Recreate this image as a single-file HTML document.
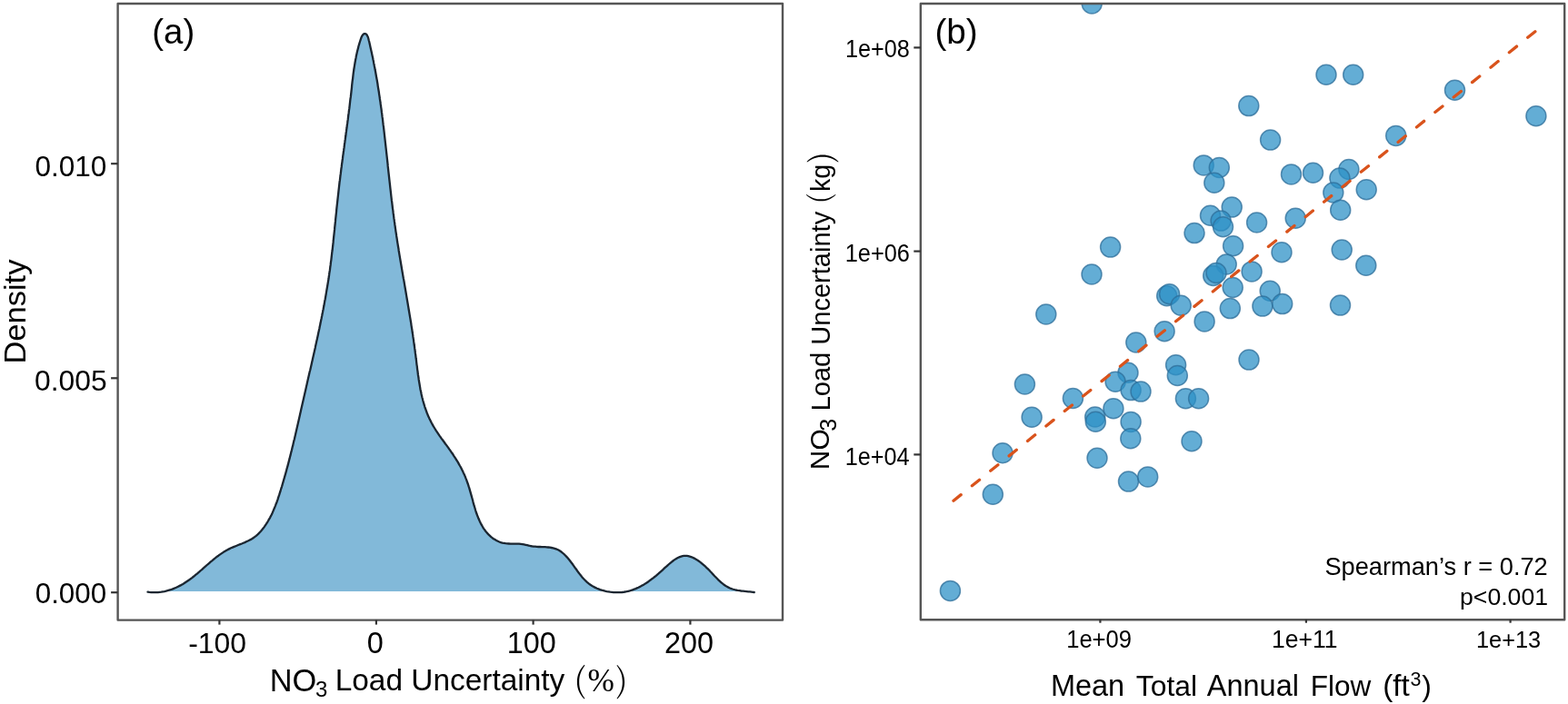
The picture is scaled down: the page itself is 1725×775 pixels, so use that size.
<!DOCTYPE html>
<html><head><meta charset="utf-8"><title>NO3 load uncertainty figure</title>
<style>
html,body{margin:0;padding:0;background:#fff;}
body{width:1725px;height:775px;overflow:hidden;}
svg{display:block;}
text{font-family:'Liberation Sans', Arial, Helvetica, sans-serif;fill:#000;}
.ser{font-family:'Noto Serif CJK JP','Liberation Serif',serif;font-weight:300;}
.ser2{font-family:'Liberation Serif',serif;}
</style></head><body>
<svg width="1725" height="775" viewBox="0 0 1725 775">
<rect x="0" y="0" width="1725" height="775" fill="#fff"/>
<defs><clipPath id="cb"><rect x="1012.8" y="4.0" width="708.4" height="678.2"/></clipPath></defs>

<path d="M162.5,651.6 L164.4,651.9 L166.3,652.1 L168.2,652.2 L170.1,652.2 L171.9,652.2 L173.8,652.1 L175.6,651.9 L177.4,651.7 L179.2,651.4 L180.9,651.1 L182.7,650.7 L184.4,650.2 L186.1,649.7 L187.8,649.2 L189.5,648.6 L191.2,647.9 L192.8,647.2 L194.4,646.5 L196.0,645.7 L197.6,644.9 L199.2,644.1 L200.8,643.2 L202.3,642.3 L203.8,641.3 L205.3,640.3 L206.8,639.3 L208.3,638.3 L209.7,637.2 L211.2,636.1 L212.6,635.0 L214.0,633.9 L215.4,632.7 L216.8,631.6 L218.2,630.4 L219.6,629.2 L220.9,628.0 L222.3,626.8 L223.6,625.6 L225.0,624.4 L226.4,623.2 L227.7,622.0 L229.1,620.8 L230.5,619.6 L231.8,618.4 L233.2,617.3 L234.6,616.1 L236.0,615.0 L237.4,613.8 L238.8,612.7 L240.3,611.7 L241.7,610.6 L243.2,609.6 L244.7,608.6 L246.2,607.6 L247.7,606.7 L249.3,605.8 L250.9,604.9 L252.5,604.1 L254.1,603.3 L255.8,602.6 L257.5,601.9 L259.2,601.2 L260.9,600.5 L262.6,599.8 L264.3,599.1 L266.0,598.5 L267.7,597.8 L269.4,597.1 L271.0,596.3 L272.7,595.5 L274.3,594.7 L275.9,593.9 L277.4,593.0 L278.9,592.0 L280.4,590.9 L281.8,589.8 L283.2,588.6 L284.5,587.4 L285.8,586.0 L287.0,584.7 L288.2,583.3 L289.4,581.8 L290.5,580.4 L291.5,578.9 L292.5,577.4 L293.5,575.8 L294.5,574.3 L295.4,572.7 L296.3,571.2 L297.2,569.6 L298.0,568.0 L298.8,566.4 L299.6,564.7 L300.3,563.1 L301.0,561.4 L301.7,559.8 L302.4,558.1 L303.1,556.4 L303.7,554.7 L304.4,553.0 L305.0,551.3 L305.6,549.6 L306.1,547.9 L306.7,546.2 L307.3,544.4 L307.8,542.7 L308.4,541.0 L308.9,539.3 L309.4,537.5 L310.0,535.8 L310.5,534.1 L311.0,532.3 L311.5,530.6 L312.0,528.8 L312.5,527.1 L313.0,525.4 L313.5,523.6 L314.0,521.9 L314.5,520.1 L315.0,518.4 L315.4,516.6 L315.9,514.9 L316.4,513.1 L316.9,511.4 L317.3,509.6 L317.8,507.9 L318.2,506.1 L318.7,504.4 L319.1,502.6 L319.6,500.9 L320.0,499.1 L320.4,497.4 L320.9,495.6 L321.3,493.9 L321.7,492.1 L322.2,490.4 L322.6,488.6 L323.0,486.8 L323.4,485.1 L323.9,483.3 L324.3,481.6 L324.7,479.8 L325.1,478.1 L325.5,476.3 L325.9,474.5 L326.3,472.8 L326.7,471.0 L327.1,469.2 L327.5,467.5 L327.9,465.7 L328.3,464.0 L328.7,462.2 L329.1,460.4 L329.5,458.7 L329.9,456.9 L330.3,455.1 L330.7,453.4 L331.1,451.6 L331.5,449.8 L331.9,448.1 L332.3,446.3 L332.7,444.5 L333.1,442.8 L333.5,441.0 L333.9,439.2 L334.3,437.5 L334.7,435.7 L335.1,434.0 L335.5,432.2 L335.9,430.4 L336.3,428.7 L336.7,426.9 L337.1,425.1 L337.5,423.4 L337.9,421.6 L338.3,419.8 L338.7,418.1 L339.1,416.3 L339.5,414.5 L339.9,412.8 L340.3,411.0 L340.7,409.2 L341.2,407.5 L341.6,405.7 L342.0,403.9 L342.4,402.2 L342.8,400.4 L343.2,398.6 L343.6,396.9 L344.0,395.1 L344.4,393.3 L344.8,391.6 L345.2,389.8 L345.6,388.0 L346.0,386.3 L346.4,384.5 L346.8,382.7 L347.1,380.9 L347.5,379.2 L347.9,377.4 L348.3,375.6 L348.7,373.9 L349.1,372.1 L349.5,370.3 L349.9,368.6 L350.2,366.8 L350.6,365.0 L351.0,363.2 L351.4,361.5 L351.7,359.7 L352.1,357.9 L352.5,356.1 L352.8,354.4 L353.2,352.6 L353.6,350.8 L353.9,349.1 L354.3,347.3 L354.6,345.5 L355.0,343.7 L355.3,341.9 L355.7,340.2 L356.0,338.4 L356.4,336.6 L356.7,334.8 L357.0,333.1 L357.3,331.3 L357.7,329.5 L358.0,327.7 L358.3,325.9 L358.6,324.2 L358.9,322.4 L359.2,320.6 L359.5,318.8 L359.8,317.0 L360.1,315.2 L360.4,313.5 L360.7,311.7 L361.0,309.9 L361.3,308.1 L361.6,306.3 L361.8,304.5 L362.1,302.7 L362.3,300.9 L362.6,299.2 L362.9,297.4 L363.1,295.6 L363.3,293.8 L363.6,292.0 L363.8,290.2 L364.0,288.4 L364.3,286.6 L364.5,284.8 L364.7,283.0 L364.9,281.2 L365.1,279.4 L365.3,277.6 L365.6,275.8 L365.8,274.0 L366.0,272.2 L366.2,270.4 L366.4,268.6 L366.6,266.9 L366.7,265.1 L366.9,263.3 L367.1,261.5 L367.3,259.7 L367.5,257.9 L367.7,256.0 L367.9,254.2 L368.1,252.4 L368.2,250.6 L368.4,248.8 L368.6,247.0 L368.8,245.2 L369.0,243.4 L369.1,241.6 L369.3,239.8 L369.5,238.0 L369.7,236.2 L369.9,234.4 L370.1,232.6 L370.2,230.8 L370.4,229.0 L370.6,227.2 L370.8,225.4 L371.0,223.6 L371.2,221.8 L371.4,220.0 L371.6,218.2 L371.8,216.4 L372.0,214.6 L372.2,212.8 L372.4,211.0 L372.6,209.2 L372.8,207.4 L373.0,205.6 L373.2,203.8 L373.4,202.0 L373.6,200.2 L373.9,198.4 L374.1,196.6 L374.3,194.8 L374.5,193.0 L374.8,191.2 L375.0,189.4 L375.2,187.6 L375.4,185.8 L375.7,184.0 L375.9,182.2 L376.1,180.4 L376.4,178.6 L376.6,176.8 L376.9,175.0 L377.1,173.2 L377.3,171.4 L377.6,169.6 L377.8,167.8 L378.1,166.0 L378.3,164.2 L378.6,162.4 L378.8,160.6 L379.0,158.8 L379.3,157.0 L379.5,155.2 L379.8,153.4 L380.0,151.6 L380.3,149.8 L380.5,148.0 L380.7,146.2 L381.0,144.4 L381.2,142.6 L381.5,140.8 L381.7,139.0 L381.9,137.3 L382.2,135.5 L382.4,133.7 L382.7,131.9 L382.9,130.1 L383.1,128.3 L383.3,126.5 L383.6,124.7 L383.8,122.9 L384.0,121.1 L384.3,119.4 L384.5,117.6 L384.7,115.8 L384.9,114.0 L385.1,112.2 L385.3,110.4 L385.5,108.7 L385.8,106.9 L386.0,105.1 L386.2,103.3 L386.4,101.5 L386.6,99.7 L386.8,98.0 L387.0,96.2 L387.1,94.4 L387.3,92.6 L387.5,90.8 L387.7,89.1 L388.0,87.3 L388.2,85.5 L388.4,83.7 L388.6,81.9 L388.8,80.1 L389.1,78.3 L389.3,76.5 L389.6,74.7 L389.9,72.9 L390.2,71.1 L390.5,69.3 L390.8,67.5 L391.1,65.7 L391.5,63.9 L391.8,62.1 L392.2,60.2 L392.6,58.4 L393.0,56.6 L393.5,54.7 L394.0,52.9 L394.4,51.0 L395.0,49.2 L395.5,47.3 L396.1,45.5 L396.7,43.6 L397.3,41.8 L398.0,40.1 L398.8,38.8 L399.7,37.8 L400.6,37.2 L401.6,37.1 L402.5,37.4 L403.4,38.2 L404.1,39.4 L404.8,40.8 L405.3,42.5 L405.7,44.2 L406.2,46.0 L406.6,47.8 L407.0,49.6 L407.4,51.4 L407.8,53.2 L408.2,55.0 L408.6,56.8 L409.0,58.6 L409.4,60.4 L409.8,62.2 L410.2,64.0 L410.5,65.8 L410.9,67.6 L411.2,69.4 L411.6,71.2 L411.9,73.0 L412.3,74.8 L412.6,76.6 L413.0,78.4 L413.3,80.2 L413.6,82.0 L413.9,83.8 L414.2,85.6 L414.6,87.4 L414.9,89.2 L415.2,91.0 L415.5,92.8 L415.7,94.6 L416.0,96.4 L416.3,98.2 L416.6,100.0 L416.9,101.8 L417.1,103.6 L417.4,105.4 L417.7,107.2 L417.9,109.0 L418.2,110.9 L418.5,112.7 L418.7,114.5 L419.0,116.3 L419.2,118.1 L419.5,119.9 L419.7,121.7 L419.9,123.5 L420.2,125.3 L420.4,127.1 L420.6,128.9 L420.9,130.7 L421.1,132.5 L421.3,134.3 L421.5,136.1 L421.7,137.9 L422.0,139.7 L422.2,141.5 L422.4,143.3 L422.6,145.1 L422.8,146.9 L423.0,148.7 L423.2,150.5 L423.4,152.3 L423.6,154.1 L423.8,155.9 L424.0,157.7 L424.2,159.5 L424.4,161.3 L424.6,163.1 L424.8,164.9 L425.0,166.7 L425.2,168.5 L425.4,170.3 L425.6,172.1 L425.8,173.9 L426.0,175.7 L426.2,177.5 L426.4,179.3 L426.6,181.1 L426.7,182.9 L426.9,184.7 L427.1,186.5 L427.3,188.3 L427.5,190.1 L427.7,191.9 L427.9,193.7 L428.1,195.5 L428.3,197.3 L428.5,199.1 L428.7,200.9 L428.9,202.7 L429.1,204.5 L429.3,206.3 L429.5,208.1 L429.7,209.9 L429.9,211.7 L430.1,213.5 L430.3,215.3 L430.5,217.1 L430.7,218.9 L430.9,220.7 L431.2,222.5 L431.4,224.3 L431.6,226.0 L431.8,227.8 L432.0,229.6 L432.3,231.4 L432.5,233.2 L432.7,235.0 L433.0,236.8 L433.2,238.6 L433.4,240.4 L433.7,242.1 L433.9,243.9 L434.2,245.7 L434.4,247.5 L434.7,249.3 L434.9,251.1 L435.2,252.9 L435.4,254.6 L435.7,256.4 L436.0,258.2 L436.2,260.0 L436.5,261.8 L436.8,263.6 L437.0,265.3 L437.3,267.1 L437.6,268.9 L437.9,270.7 L438.2,272.5 L438.5,274.2 L438.7,276.0 L439.0,277.8 L439.3,279.6 L439.6,281.4 L439.9,283.1 L440.2,284.9 L440.5,286.7 L440.8,288.5 L441.1,290.3 L441.4,292.0 L441.7,293.8 L442.0,295.6 L442.3,297.4 L442.6,299.2 L442.9,300.9 L443.2,302.7 L443.5,304.5 L443.8,306.3 L444.2,308.1 L444.5,309.8 L444.8,311.6 L445.1,313.4 L445.4,315.2 L445.7,317.0 L446.0,318.7 L446.3,320.5 L446.6,322.3 L446.9,324.1 L447.2,325.9 L447.5,327.7 L447.8,329.5 L448.1,331.2 L448.4,333.0 L448.7,334.8 L449.0,336.6 L449.3,338.4 L449.6,340.2 L449.9,342.0 L450.2,343.8 L450.5,345.6 L450.8,347.4 L451.1,349.1 L451.4,350.9 L451.7,352.7 L452.0,354.5 L452.3,356.3 L452.5,358.1 L452.8,359.9 L453.1,361.7 L453.4,363.5 L453.6,365.3 L453.9,367.1 L454.2,368.9 L454.4,370.7 L454.7,372.6 L455.0,374.4 L455.2,376.2 L455.5,378.0 L455.7,379.8 L456.0,381.6 L456.2,383.4 L456.5,385.2 L456.7,387.0 L456.9,388.9 L457.2,390.7 L457.4,392.5 L457.6,394.3 L457.9,396.1 L458.1,398.0 L458.3,399.8 L458.5,401.6 L458.8,403.4 L459.0,405.3 L459.2,407.1 L459.5,408.9 L459.7,410.7 L459.9,412.5 L460.2,414.3 L460.5,416.1 L460.7,417.9 L461.0,419.7 L461.3,421.5 L461.6,423.3 L461.9,425.1 L462.2,426.9 L462.5,428.7 L462.9,430.5 L463.3,432.2 L463.6,434.0 L464.0,435.7 L464.4,437.5 L464.9,439.2 L465.3,441.0 L465.8,442.7 L466.3,444.4 L466.8,446.1 L467.3,447.8 L467.9,449.5 L468.5,451.2 L469.1,452.8 L469.7,454.5 L470.4,456.2 L471.0,457.8 L471.8,459.4 L472.5,461.0 L473.3,462.6 L474.1,464.2 L474.9,465.8 L475.8,467.4 L476.6,468.9 L477.6,470.5 L478.5,472.0 L479.5,473.6 L480.5,475.1 L481.5,476.6 L482.5,478.1 L483.5,479.6 L484.6,481.1 L485.6,482.6 L486.7,484.0 L487.8,485.5 L488.9,487.0 L489.9,488.5 L491.0,489.9 L492.1,491.4 L493.2,492.9 L494.2,494.4 L495.3,495.9 L496.3,497.3 L497.3,498.8 L498.4,500.3 L499.3,501.8 L500.3,503.3 L501.3,504.8 L502.2,506.3 L503.2,507.9 L504.1,509.4 L504.9,510.9 L505.8,512.5 L506.7,514.0 L507.5,515.6 L508.3,517.2 L509.1,518.8 L509.8,520.4 L510.6,522.0 L511.3,523.6 L512.0,525.3 L512.6,526.9 L513.3,528.6 L513.9,530.3 L514.5,532.0 L515.1,533.7 L515.6,535.4 L516.2,537.1 L516.7,538.9 L517.2,540.6 L517.7,542.4 L518.2,544.1 L518.7,545.9 L519.2,547.7 L519.7,549.5 L520.2,551.3 L520.6,553.1 L521.1,554.9 L521.6,556.7 L522.2,558.5 L522.7,560.2 L523.2,562.0 L523.8,563.8 L524.4,565.5 L525.0,567.2 L525.7,568.9 L526.3,570.6 L527.1,572.3 L527.8,573.9 L528.6,575.6 L529.4,577.2 L530.3,578.7 L531.2,580.3 L532.1,581.8 L533.1,583.2 L534.2,584.7 L535.3,586.0 L536.5,587.4 L537.7,588.7 L539.0,589.9 L540.3,591.1 L541.7,592.2 L543.1,593.2 L544.6,594.1 L546.1,595.0 L547.7,595.8 L549.3,596.5 L550.9,597.1 L552.6,597.6 L554.4,597.9 L556.2,598.2 L558.0,598.4 L559.8,598.5 L561.7,598.6 L563.6,598.6 L565.5,598.6 L567.4,598.6 L569.3,598.7 L571.1,598.7 L573.0,598.9 L574.8,599.1 L576.5,599.4 L578.3,599.8 L580.0,600.2 L581.7,600.6 L583.5,601.0 L585.2,601.3 L587.0,601.6 L588.8,601.7 L590.6,601.9 L592.4,602.0 L594.2,602.0 L596.1,602.1 L597.9,602.2 L599.7,602.2 L601.5,602.3 L603.3,602.5 L605.0,602.7 L606.8,603.0 L608.5,603.3 L610.2,603.8 L611.8,604.4 L613.4,605.0 L614.9,605.8 L616.4,606.8 L617.9,607.8 L619.3,609.0 L620.7,610.2 L622.0,611.5 L623.3,612.9 L624.6,614.3 L625.8,615.8 L627.0,617.3 L628.1,618.8 L629.3,620.3 L630.4,621.8 L631.5,623.4 L632.5,624.8 L633.6,626.3 L634.7,627.8 L635.7,629.3 L636.8,630.7 L637.9,632.1 L639.0,633.5 L640.1,634.9 L641.2,636.2 L642.4,637.5 L643.6,638.7 L644.8,639.9 L646.1,641.1 L647.4,642.2 L648.8,643.3 L650.3,644.3 L651.8,645.2 L653.4,646.1 L655.0,646.9 L656.7,647.7 L658.4,648.4 L660.2,649.1 L662.0,649.7 L663.8,650.2 L665.6,650.7 L667.5,651.1 L669.4,651.4 L671.3,651.7 L673.2,651.9 L675.0,652.1 L676.9,652.2 L678.8,652.2 L680.6,652.2 L682.4,652.1 L684.2,652.0 L686.0,651.8 L687.7,651.5 L689.4,651.2 L691.1,650.8 L692.8,650.4 L694.4,649.9 L696.1,649.3 L697.7,648.7 L699.3,648.1 L700.8,647.4 L702.4,646.7 L704.0,645.9 L705.5,645.1 L707.0,644.2 L708.5,643.4 L710.0,642.4 L711.5,641.5 L713.0,640.5 L714.4,639.4 L715.9,638.3 L717.3,637.2 L718.8,636.1 L720.2,635.0 L721.7,633.8 L723.1,632.6 L724.5,631.4 L725.9,630.1 L727.4,628.8 L728.8,627.6 L730.2,626.2 L731.6,624.9 L733.1,623.6 L734.5,622.3 L736.0,621.0 L737.4,619.8 L738.9,618.6 L740.3,617.5 L741.8,616.4 L743.3,615.4 L744.8,614.5 L746.3,613.8 L747.8,613.1 L749.3,612.6 L750.9,612.2 L752.4,611.9 L754.0,611.9 L755.6,611.9 L757.2,612.2 L758.8,612.6 L760.4,613.1 L762.1,613.8 L763.7,614.6 L765.3,615.5 L766.9,616.4 L768.5,617.5 L770.1,618.6 L771.6,619.8 L773.1,621.1 L774.6,622.4 L776.1,623.7 L777.5,625.1 L778.9,626.4 L780.3,627.8 L781.6,629.2 L782.9,630.5 L784.1,631.9 L785.3,633.2 L786.5,634.5 L787.8,635.8 L789.0,637.0 L790.2,638.3 L791.4,639.4 L792.7,640.6 L793.9,641.7 L795.2,642.7 L796.6,643.8 L798.0,644.7 L799.4,645.6 L800.9,646.4 L802.5,647.2 L804.1,647.9 L805.8,648.5 L807.6,649.0 L809.5,649.5 L811.4,649.9 L813.4,650.2 L815.4,650.5 L817.4,650.7 L819.4,650.9 L821.3,651.1 L823.2,651.3 L825.0,651.4 L826.7,651.6 L828.3,651.8 L829.7,652.0 L829.7,650.9 L162.5,650.9 Z" fill="#82b9d9" stroke="none"/>
<path d="M162.5,651.6 L164.4,651.9 L166.3,652.1 L168.2,652.2 L170.1,652.2 L171.9,652.2 L173.8,652.1 L175.6,651.9 L177.4,651.7 L179.2,651.4 L180.9,651.1 L182.7,650.7 L184.4,650.2 L186.1,649.7 L187.8,649.2 L189.5,648.6 L191.2,647.9 L192.8,647.2 L194.4,646.5 L196.0,645.7 L197.6,644.9 L199.2,644.1 L200.8,643.2 L202.3,642.3 L203.8,641.3 L205.3,640.3 L206.8,639.3 L208.3,638.3 L209.7,637.2 L211.2,636.1 L212.6,635.0 L214.0,633.9 L215.4,632.7 L216.8,631.6 L218.2,630.4 L219.6,629.2 L220.9,628.0 L222.3,626.8 L223.6,625.6 L225.0,624.4 L226.4,623.2 L227.7,622.0 L229.1,620.8 L230.5,619.6 L231.8,618.4 L233.2,617.3 L234.6,616.1 L236.0,615.0 L237.4,613.8 L238.8,612.7 L240.3,611.7 L241.7,610.6 L243.2,609.6 L244.7,608.6 L246.2,607.6 L247.7,606.7 L249.3,605.8 L250.9,604.9 L252.5,604.1 L254.1,603.3 L255.8,602.6 L257.5,601.9 L259.2,601.2 L260.9,600.5 L262.6,599.8 L264.3,599.1 L266.0,598.5 L267.7,597.8 L269.4,597.1 L271.0,596.3 L272.7,595.5 L274.3,594.7 L275.9,593.9 L277.4,593.0 L278.9,592.0 L280.4,590.9 L281.8,589.8 L283.2,588.6 L284.5,587.4 L285.8,586.0 L287.0,584.7 L288.2,583.3 L289.4,581.8 L290.5,580.4 L291.5,578.9 L292.5,577.4 L293.5,575.8 L294.5,574.3 L295.4,572.7 L296.3,571.2 L297.2,569.6 L298.0,568.0 L298.8,566.4 L299.6,564.7 L300.3,563.1 L301.0,561.4 L301.7,559.8 L302.4,558.1 L303.1,556.4 L303.7,554.7 L304.4,553.0 L305.0,551.3 L305.6,549.6 L306.1,547.9 L306.7,546.2 L307.3,544.4 L307.8,542.7 L308.4,541.0 L308.9,539.3 L309.4,537.5 L310.0,535.8 L310.5,534.1 L311.0,532.3 L311.5,530.6 L312.0,528.8 L312.5,527.1 L313.0,525.4 L313.5,523.6 L314.0,521.9 L314.5,520.1 L315.0,518.4 L315.4,516.6 L315.9,514.9 L316.4,513.1 L316.9,511.4 L317.3,509.6 L317.8,507.9 L318.2,506.1 L318.7,504.4 L319.1,502.6 L319.6,500.9 L320.0,499.1 L320.4,497.4 L320.9,495.6 L321.3,493.9 L321.7,492.1 L322.2,490.4 L322.6,488.6 L323.0,486.8 L323.4,485.1 L323.9,483.3 L324.3,481.6 L324.7,479.8 L325.1,478.1 L325.5,476.3 L325.9,474.5 L326.3,472.8 L326.7,471.0 L327.1,469.2 L327.5,467.5 L327.9,465.7 L328.3,464.0 L328.7,462.2 L329.1,460.4 L329.5,458.7 L329.9,456.9 L330.3,455.1 L330.7,453.4 L331.1,451.6 L331.5,449.8 L331.9,448.1 L332.3,446.3 L332.7,444.5 L333.1,442.8 L333.5,441.0 L333.9,439.2 L334.3,437.5 L334.7,435.7 L335.1,434.0 L335.5,432.2 L335.9,430.4 L336.3,428.7 L336.7,426.9 L337.1,425.1 L337.5,423.4 L337.9,421.6 L338.3,419.8 L338.7,418.1 L339.1,416.3 L339.5,414.5 L339.9,412.8 L340.3,411.0 L340.7,409.2 L341.2,407.5 L341.6,405.7 L342.0,403.9 L342.4,402.2 L342.8,400.4 L343.2,398.6 L343.6,396.9 L344.0,395.1 L344.4,393.3 L344.8,391.6 L345.2,389.8 L345.6,388.0 L346.0,386.3 L346.4,384.5 L346.8,382.7 L347.1,380.9 L347.5,379.2 L347.9,377.4 L348.3,375.6 L348.7,373.9 L349.1,372.1 L349.5,370.3 L349.9,368.6 L350.2,366.8 L350.6,365.0 L351.0,363.2 L351.4,361.5 L351.7,359.7 L352.1,357.9 L352.5,356.1 L352.8,354.4 L353.2,352.6 L353.6,350.8 L353.9,349.1 L354.3,347.3 L354.6,345.5 L355.0,343.7 L355.3,341.9 L355.7,340.2 L356.0,338.4 L356.4,336.6 L356.7,334.8 L357.0,333.1 L357.3,331.3 L357.7,329.5 L358.0,327.7 L358.3,325.9 L358.6,324.2 L358.9,322.4 L359.2,320.6 L359.5,318.8 L359.8,317.0 L360.1,315.2 L360.4,313.5 L360.7,311.7 L361.0,309.9 L361.3,308.1 L361.6,306.3 L361.8,304.5 L362.1,302.7 L362.3,300.9 L362.6,299.2 L362.9,297.4 L363.1,295.6 L363.3,293.8 L363.6,292.0 L363.8,290.2 L364.0,288.4 L364.3,286.6 L364.5,284.8 L364.7,283.0 L364.9,281.2 L365.1,279.4 L365.3,277.6 L365.6,275.8 L365.8,274.0 L366.0,272.2 L366.2,270.4 L366.4,268.6 L366.6,266.9 L366.7,265.1 L366.9,263.3 L367.1,261.5 L367.3,259.7 L367.5,257.9 L367.7,256.0 L367.9,254.2 L368.1,252.4 L368.2,250.6 L368.4,248.8 L368.6,247.0 L368.8,245.2 L369.0,243.4 L369.1,241.6 L369.3,239.8 L369.5,238.0 L369.7,236.2 L369.9,234.4 L370.1,232.6 L370.2,230.8 L370.4,229.0 L370.6,227.2 L370.8,225.4 L371.0,223.6 L371.2,221.8 L371.4,220.0 L371.6,218.2 L371.8,216.4 L372.0,214.6 L372.2,212.8 L372.4,211.0 L372.6,209.2 L372.8,207.4 L373.0,205.6 L373.2,203.8 L373.4,202.0 L373.6,200.2 L373.9,198.4 L374.1,196.6 L374.3,194.8 L374.5,193.0 L374.8,191.2 L375.0,189.4 L375.2,187.6 L375.4,185.8 L375.7,184.0 L375.9,182.2 L376.1,180.4 L376.4,178.6 L376.6,176.8 L376.9,175.0 L377.1,173.2 L377.3,171.4 L377.6,169.6 L377.8,167.8 L378.1,166.0 L378.3,164.2 L378.6,162.4 L378.8,160.6 L379.0,158.8 L379.3,157.0 L379.5,155.2 L379.8,153.4 L380.0,151.6 L380.3,149.8 L380.5,148.0 L380.7,146.2 L381.0,144.4 L381.2,142.6 L381.5,140.8 L381.7,139.0 L381.9,137.3 L382.2,135.5 L382.4,133.7 L382.7,131.9 L382.9,130.1 L383.1,128.3 L383.3,126.5 L383.6,124.7 L383.8,122.9 L384.0,121.1 L384.3,119.4 L384.5,117.6 L384.7,115.8 L384.9,114.0 L385.1,112.2 L385.3,110.4 L385.5,108.7 L385.8,106.9 L386.0,105.1 L386.2,103.3 L386.4,101.5 L386.6,99.7 L386.8,98.0 L387.0,96.2 L387.1,94.4 L387.3,92.6 L387.5,90.8 L387.7,89.1 L388.0,87.3 L388.2,85.5 L388.4,83.7 L388.6,81.9 L388.8,80.1 L389.1,78.3 L389.3,76.5 L389.6,74.7 L389.9,72.9 L390.2,71.1 L390.5,69.3 L390.8,67.5 L391.1,65.7 L391.5,63.9 L391.8,62.1 L392.2,60.2 L392.6,58.4 L393.0,56.6 L393.5,54.7 L394.0,52.9 L394.4,51.0 L395.0,49.2 L395.5,47.3 L396.1,45.5 L396.7,43.6 L397.3,41.8 L398.0,40.1 L398.8,38.8 L399.7,37.8 L400.6,37.2 L401.6,37.1 L402.5,37.4 L403.4,38.2 L404.1,39.4 L404.8,40.8 L405.3,42.5 L405.7,44.2 L406.2,46.0 L406.6,47.8 L407.0,49.6 L407.4,51.4 L407.8,53.2 L408.2,55.0 L408.6,56.8 L409.0,58.6 L409.4,60.4 L409.8,62.2 L410.2,64.0 L410.5,65.8 L410.9,67.6 L411.2,69.4 L411.6,71.2 L411.9,73.0 L412.3,74.8 L412.6,76.6 L413.0,78.4 L413.3,80.2 L413.6,82.0 L413.9,83.8 L414.2,85.6 L414.6,87.4 L414.9,89.2 L415.2,91.0 L415.5,92.8 L415.7,94.6 L416.0,96.4 L416.3,98.2 L416.6,100.0 L416.9,101.8 L417.1,103.6 L417.4,105.4 L417.7,107.2 L417.9,109.0 L418.2,110.9 L418.5,112.7 L418.7,114.5 L419.0,116.3 L419.2,118.1 L419.5,119.9 L419.7,121.7 L419.9,123.5 L420.2,125.3 L420.4,127.1 L420.6,128.9 L420.9,130.7 L421.1,132.5 L421.3,134.3 L421.5,136.1 L421.7,137.9 L422.0,139.7 L422.2,141.5 L422.4,143.3 L422.6,145.1 L422.8,146.9 L423.0,148.7 L423.2,150.5 L423.4,152.3 L423.6,154.1 L423.8,155.9 L424.0,157.7 L424.2,159.5 L424.4,161.3 L424.6,163.1 L424.8,164.9 L425.0,166.7 L425.2,168.5 L425.4,170.3 L425.6,172.1 L425.8,173.9 L426.0,175.7 L426.2,177.5 L426.4,179.3 L426.6,181.1 L426.7,182.9 L426.9,184.7 L427.1,186.5 L427.3,188.3 L427.5,190.1 L427.7,191.9 L427.9,193.7 L428.1,195.5 L428.3,197.3 L428.5,199.1 L428.7,200.9 L428.9,202.7 L429.1,204.5 L429.3,206.3 L429.5,208.1 L429.7,209.9 L429.9,211.7 L430.1,213.5 L430.3,215.3 L430.5,217.1 L430.7,218.9 L430.9,220.7 L431.2,222.5 L431.4,224.3 L431.6,226.0 L431.8,227.8 L432.0,229.6 L432.3,231.4 L432.5,233.2 L432.7,235.0 L433.0,236.8 L433.2,238.6 L433.4,240.4 L433.7,242.1 L433.9,243.9 L434.2,245.7 L434.4,247.5 L434.7,249.3 L434.9,251.1 L435.2,252.9 L435.4,254.6 L435.7,256.4 L436.0,258.2 L436.2,260.0 L436.5,261.8 L436.8,263.6 L437.0,265.3 L437.3,267.1 L437.6,268.9 L437.9,270.7 L438.2,272.5 L438.5,274.2 L438.7,276.0 L439.0,277.8 L439.3,279.6 L439.6,281.4 L439.9,283.1 L440.2,284.9 L440.5,286.7 L440.8,288.5 L441.1,290.3 L441.4,292.0 L441.7,293.8 L442.0,295.6 L442.3,297.4 L442.6,299.2 L442.9,300.9 L443.2,302.7 L443.5,304.5 L443.8,306.3 L444.2,308.1 L444.5,309.8 L444.8,311.6 L445.1,313.4 L445.4,315.2 L445.7,317.0 L446.0,318.7 L446.3,320.5 L446.6,322.3 L446.9,324.1 L447.2,325.9 L447.5,327.7 L447.8,329.5 L448.1,331.2 L448.4,333.0 L448.7,334.8 L449.0,336.6 L449.3,338.4 L449.6,340.2 L449.9,342.0 L450.2,343.8 L450.5,345.6 L450.8,347.4 L451.1,349.1 L451.4,350.9 L451.7,352.7 L452.0,354.5 L452.3,356.3 L452.5,358.1 L452.8,359.9 L453.1,361.7 L453.4,363.5 L453.6,365.3 L453.9,367.1 L454.2,368.9 L454.4,370.7 L454.7,372.6 L455.0,374.4 L455.2,376.2 L455.5,378.0 L455.7,379.8 L456.0,381.6 L456.2,383.4 L456.5,385.2 L456.7,387.0 L456.9,388.9 L457.2,390.7 L457.4,392.5 L457.6,394.3 L457.9,396.1 L458.1,398.0 L458.3,399.8 L458.5,401.6 L458.8,403.4 L459.0,405.3 L459.2,407.1 L459.5,408.9 L459.7,410.7 L459.9,412.5 L460.2,414.3 L460.5,416.1 L460.7,417.9 L461.0,419.7 L461.3,421.5 L461.6,423.3 L461.9,425.1 L462.2,426.9 L462.5,428.7 L462.9,430.5 L463.3,432.2 L463.6,434.0 L464.0,435.7 L464.4,437.5 L464.9,439.2 L465.3,441.0 L465.8,442.7 L466.3,444.4 L466.8,446.1 L467.3,447.8 L467.9,449.5 L468.5,451.2 L469.1,452.8 L469.7,454.5 L470.4,456.2 L471.0,457.8 L471.8,459.4 L472.5,461.0 L473.3,462.6 L474.1,464.2 L474.9,465.8 L475.8,467.4 L476.6,468.9 L477.6,470.5 L478.5,472.0 L479.5,473.6 L480.5,475.1 L481.5,476.6 L482.5,478.1 L483.5,479.6 L484.6,481.1 L485.6,482.6 L486.7,484.0 L487.8,485.5 L488.9,487.0 L489.9,488.5 L491.0,489.9 L492.1,491.4 L493.2,492.9 L494.2,494.4 L495.3,495.9 L496.3,497.3 L497.3,498.8 L498.4,500.3 L499.3,501.8 L500.3,503.3 L501.3,504.8 L502.2,506.3 L503.2,507.9 L504.1,509.4 L504.9,510.9 L505.8,512.5 L506.7,514.0 L507.5,515.6 L508.3,517.2 L509.1,518.8 L509.8,520.4 L510.6,522.0 L511.3,523.6 L512.0,525.3 L512.6,526.9 L513.3,528.6 L513.9,530.3 L514.5,532.0 L515.1,533.7 L515.6,535.4 L516.2,537.1 L516.7,538.9 L517.2,540.6 L517.7,542.4 L518.2,544.1 L518.7,545.9 L519.2,547.7 L519.7,549.5 L520.2,551.3 L520.6,553.1 L521.1,554.9 L521.6,556.7 L522.2,558.5 L522.7,560.2 L523.2,562.0 L523.8,563.8 L524.4,565.5 L525.0,567.2 L525.7,568.9 L526.3,570.6 L527.1,572.3 L527.8,573.9 L528.6,575.6 L529.4,577.2 L530.3,578.7 L531.2,580.3 L532.1,581.8 L533.1,583.2 L534.2,584.7 L535.3,586.0 L536.5,587.4 L537.7,588.7 L539.0,589.9 L540.3,591.1 L541.7,592.2 L543.1,593.2 L544.6,594.1 L546.1,595.0 L547.7,595.8 L549.3,596.5 L550.9,597.1 L552.6,597.6 L554.4,597.9 L556.2,598.2 L558.0,598.4 L559.8,598.5 L561.7,598.6 L563.6,598.6 L565.5,598.6 L567.4,598.6 L569.3,598.7 L571.1,598.7 L573.0,598.9 L574.8,599.1 L576.5,599.4 L578.3,599.8 L580.0,600.2 L581.7,600.6 L583.5,601.0 L585.2,601.3 L587.0,601.6 L588.8,601.7 L590.6,601.9 L592.4,602.0 L594.2,602.0 L596.1,602.1 L597.9,602.2 L599.7,602.2 L601.5,602.3 L603.3,602.5 L605.0,602.7 L606.8,603.0 L608.5,603.3 L610.2,603.8 L611.8,604.4 L613.4,605.0 L614.9,605.8 L616.4,606.8 L617.9,607.8 L619.3,609.0 L620.7,610.2 L622.0,611.5 L623.3,612.9 L624.6,614.3 L625.8,615.8 L627.0,617.3 L628.1,618.8 L629.3,620.3 L630.4,621.8 L631.5,623.4 L632.5,624.8 L633.6,626.3 L634.7,627.8 L635.7,629.3 L636.8,630.7 L637.9,632.1 L639.0,633.5 L640.1,634.9 L641.2,636.2 L642.4,637.5 L643.6,638.7 L644.8,639.9 L646.1,641.1 L647.4,642.2 L648.8,643.3 L650.3,644.3 L651.8,645.2 L653.4,646.1 L655.0,646.9 L656.7,647.7 L658.4,648.4 L660.2,649.1 L662.0,649.7 L663.8,650.2 L665.6,650.7 L667.5,651.1 L669.4,651.4 L671.3,651.7 L673.2,651.9 L675.0,652.1 L676.9,652.2 L678.8,652.2 L680.6,652.2 L682.4,652.1 L684.2,652.0 L686.0,651.8 L687.7,651.5 L689.4,651.2 L691.1,650.8 L692.8,650.4 L694.4,649.9 L696.1,649.3 L697.7,648.7 L699.3,648.1 L700.8,647.4 L702.4,646.7 L704.0,645.9 L705.5,645.1 L707.0,644.2 L708.5,643.4 L710.0,642.4 L711.5,641.5 L713.0,640.5 L714.4,639.4 L715.9,638.3 L717.3,637.2 L718.8,636.1 L720.2,635.0 L721.7,633.8 L723.1,632.6 L724.5,631.4 L725.9,630.1 L727.4,628.8 L728.8,627.6 L730.2,626.2 L731.6,624.9 L733.1,623.6 L734.5,622.3 L736.0,621.0 L737.4,619.8 L738.9,618.6 L740.3,617.5 L741.8,616.4 L743.3,615.4 L744.8,614.5 L746.3,613.8 L747.8,613.1 L749.3,612.6 L750.9,612.2 L752.4,611.9 L754.0,611.9 L755.6,611.9 L757.2,612.2 L758.8,612.6 L760.4,613.1 L762.1,613.8 L763.7,614.6 L765.3,615.5 L766.9,616.4 L768.5,617.5 L770.1,618.6 L771.6,619.8 L773.1,621.1 L774.6,622.4 L776.1,623.7 L777.5,625.1 L778.9,626.4 L780.3,627.8 L781.6,629.2 L782.9,630.5 L784.1,631.9 L785.3,633.2 L786.5,634.5 L787.8,635.8 L789.0,637.0 L790.2,638.3 L791.4,639.4 L792.7,640.6 L793.9,641.7 L795.2,642.7 L796.6,643.8 L798.0,644.7 L799.4,645.6 L800.9,646.4 L802.5,647.2 L804.1,647.9 L805.8,648.5 L807.6,649.0 L809.5,649.5 L811.4,649.9 L813.4,650.2 L815.4,650.5 L817.4,650.7 L819.4,650.9 L821.3,651.1 L823.2,651.3 L825.0,651.4 L826.7,651.6 L828.3,651.8 L829.7,652.0" fill="none" stroke="#1b2631" stroke-width="2.3" stroke-linejoin="round" stroke-linecap="round"/>
<rect x="129.6" y="4.0" width="731.4" height="678.6" fill="none" stroke="#555555" stroke-width="2.4" stroke-linejoin="round"/>
<line x1="122.1" y1="652.2" x2="129.6" y2="652.2" stroke="#333333" stroke-width="2.2"/>
<line x1="122.1" y1="416.3" x2="129.6" y2="416.3" stroke="#333333" stroke-width="2.2"/>
<line x1="122.1" y1="180.2" x2="129.6" y2="180.2" stroke="#333333" stroke-width="2.2"/>
<line x1="241.4" y1="682.6" x2="241.4" y2="687.6" stroke="#333333" stroke-width="2.2"/>
<line x1="413.9" y1="682.6" x2="413.9" y2="687.6" stroke="#333333" stroke-width="2.2"/>
<line x1="586.6" y1="682.6" x2="586.6" y2="687.6" stroke="#333333" stroke-width="2.2"/>
<line x1="759.4" y1="682.6" x2="759.4" y2="687.6" stroke="#333333" stroke-width="2.2"/>
<g clip-path="url(#cb)">
<circle cx="1201.2" cy="4" r="11.0" fill="#2d90c6" fill-opacity="0.74" stroke="#2e6d98" stroke-opacity="0.74" stroke-width="1.5"/>
<circle cx="1459" cy="82.2" r="11.0" fill="#2d90c6" fill-opacity="0.74" stroke="#2e6d98" stroke-opacity="0.74" stroke-width="1.5"/>
<circle cx="1488.7" cy="82.2" r="11.0" fill="#2d90c6" fill-opacity="0.74" stroke="#2e6d98" stroke-opacity="0.74" stroke-width="1.5"/>
<circle cx="1600.5" cy="99.2" r="11.0" fill="#2d90c6" fill-opacity="0.74" stroke="#2e6d98" stroke-opacity="0.74" stroke-width="1.5"/>
<circle cx="1689.9" cy="127.7" r="11.0" fill="#2d90c6" fill-opacity="0.74" stroke="#2e6d98" stroke-opacity="0.74" stroke-width="1.5"/>
<circle cx="1373.8" cy="116.6" r="11.0" fill="#2d90c6" fill-opacity="0.74" stroke="#2e6d98" stroke-opacity="0.74" stroke-width="1.5"/>
<circle cx="1397.6" cy="154.1" r="11.0" fill="#2d90c6" fill-opacity="0.74" stroke="#2e6d98" stroke-opacity="0.74" stroke-width="1.5"/>
<circle cx="1535.7" cy="149.4" r="11.0" fill="#2d90c6" fill-opacity="0.74" stroke="#2e6d98" stroke-opacity="0.74" stroke-width="1.5"/>
<circle cx="1324.2" cy="181.9" r="11.0" fill="#2d90c6" fill-opacity="0.74" stroke="#2e6d98" stroke-opacity="0.74" stroke-width="1.5"/>
<circle cx="1341.3" cy="184.5" r="11.0" fill="#2d90c6" fill-opacity="0.74" stroke="#2e6d98" stroke-opacity="0.74" stroke-width="1.5"/>
<circle cx="1335.8" cy="201.3" r="11.0" fill="#2d90c6" fill-opacity="0.74" stroke="#2e6d98" stroke-opacity="0.74" stroke-width="1.5"/>
<circle cx="1420.5" cy="191.9" r="11.0" fill="#2d90c6" fill-opacity="0.74" stroke="#2e6d98" stroke-opacity="0.74" stroke-width="1.5"/>
<circle cx="1444.5" cy="190.2" r="11.0" fill="#2d90c6" fill-opacity="0.74" stroke="#2e6d98" stroke-opacity="0.74" stroke-width="1.5"/>
<circle cx="1483.9" cy="186.5" r="11.0" fill="#2d90c6" fill-opacity="0.74" stroke="#2e6d98" stroke-opacity="0.74" stroke-width="1.5"/>
<circle cx="1473.9" cy="196.1" r="11.0" fill="#2d90c6" fill-opacity="0.74" stroke="#2e6d98" stroke-opacity="0.74" stroke-width="1.5"/>
<circle cx="1466.8" cy="212" r="11.0" fill="#2d90c6" fill-opacity="0.74" stroke="#2e6d98" stroke-opacity="0.74" stroke-width="1.5"/>
<circle cx="1503.2" cy="208.7" r="11.0" fill="#2d90c6" fill-opacity="0.74" stroke="#2e6d98" stroke-opacity="0.74" stroke-width="1.5"/>
<circle cx="1474.7" cy="231.3" r="11.0" fill="#2d90c6" fill-opacity="0.74" stroke="#2e6d98" stroke-opacity="0.74" stroke-width="1.5"/>
<circle cx="1425.2" cy="240.2" r="11.0" fill="#2d90c6" fill-opacity="0.74" stroke="#2e6d98" stroke-opacity="0.74" stroke-width="1.5"/>
<circle cx="1355.2" cy="228.1" r="11.0" fill="#2d90c6" fill-opacity="0.74" stroke="#2e6d98" stroke-opacity="0.74" stroke-width="1.5"/>
<circle cx="1331.5" cy="237.3" r="11.0" fill="#2d90c6" fill-opacity="0.74" stroke="#2e6d98" stroke-opacity="0.74" stroke-width="1.5"/>
<circle cx="1343.1" cy="243.1" r="11.0" fill="#2d90c6" fill-opacity="0.74" stroke="#2e6d98" stroke-opacity="0.74" stroke-width="1.5"/>
<circle cx="1345.5" cy="249.8" r="11.0" fill="#2d90c6" fill-opacity="0.74" stroke="#2e6d98" stroke-opacity="0.74" stroke-width="1.5"/>
<circle cx="1382.6" cy="245" r="11.0" fill="#2d90c6" fill-opacity="0.74" stroke="#2e6d98" stroke-opacity="0.74" stroke-width="1.5"/>
<circle cx="1314" cy="256.6" r="11.0" fill="#2d90c6" fill-opacity="0.74" stroke="#2e6d98" stroke-opacity="0.74" stroke-width="1.5"/>
<circle cx="1356.6" cy="270.7" r="11.0" fill="#2d90c6" fill-opacity="0.74" stroke="#2e6d98" stroke-opacity="0.74" stroke-width="1.5"/>
<circle cx="1410" cy="277.8" r="11.0" fill="#2d90c6" fill-opacity="0.74" stroke="#2e6d98" stroke-opacity="0.74" stroke-width="1.5"/>
<circle cx="1476.2" cy="275" r="11.0" fill="#2d90c6" fill-opacity="0.74" stroke="#2e6d98" stroke-opacity="0.74" stroke-width="1.5"/>
<circle cx="1221.6" cy="272.1" r="11.0" fill="#2d90c6" fill-opacity="0.74" stroke="#2e6d98" stroke-opacity="0.74" stroke-width="1.5"/>
<circle cx="1201" cy="302" r="11.0" fill="#2d90c6" fill-opacity="0.74" stroke="#2e6d98" stroke-opacity="0.74" stroke-width="1.5"/>
<circle cx="1349.2" cy="291" r="11.0" fill="#2d90c6" fill-opacity="0.74" stroke="#2e6d98" stroke-opacity="0.74" stroke-width="1.5"/>
<circle cx="1334.7" cy="303.5" r="11.0" fill="#2d90c6" fill-opacity="0.74" stroke="#2e6d98" stroke-opacity="0.74" stroke-width="1.5"/>
<circle cx="1338" cy="300.5" r="11.0" fill="#2d90c6" fill-opacity="0.74" stroke="#2e6d98" stroke-opacity="0.74" stroke-width="1.5"/>
<circle cx="1377.1" cy="298.9" r="11.0" fill="#2d90c6" fill-opacity="0.74" stroke="#2e6d98" stroke-opacity="0.74" stroke-width="1.5"/>
<circle cx="1356.2" cy="316.5" r="11.0" fill="#2d90c6" fill-opacity="0.74" stroke="#2e6d98" stroke-opacity="0.74" stroke-width="1.5"/>
<circle cx="1502.8" cy="292.3" r="11.0" fill="#2d90c6" fill-opacity="0.74" stroke="#2e6d98" stroke-opacity="0.74" stroke-width="1.5"/>
<circle cx="1397.2" cy="320.3" r="11.0" fill="#2d90c6" fill-opacity="0.74" stroke="#2e6d98" stroke-opacity="0.74" stroke-width="1.5"/>
<circle cx="1388.9" cy="337.1" r="11.0" fill="#2d90c6" fill-opacity="0.74" stroke="#2e6d98" stroke-opacity="0.74" stroke-width="1.5"/>
<circle cx="1410.7" cy="334.6" r="11.0" fill="#2d90c6" fill-opacity="0.74" stroke="#2e6d98" stroke-opacity="0.74" stroke-width="1.5"/>
<circle cx="1353.3" cy="339.6" r="11.0" fill="#2d90c6" fill-opacity="0.74" stroke="#2e6d98" stroke-opacity="0.74" stroke-width="1.5"/>
<circle cx="1474.5" cy="336.1" r="11.0" fill="#2d90c6" fill-opacity="0.74" stroke="#2e6d98" stroke-opacity="0.74" stroke-width="1.5"/>
<circle cx="1325.1" cy="353.9" r="11.0" fill="#2d90c6" fill-opacity="0.74" stroke="#2e6d98" stroke-opacity="0.74" stroke-width="1.5"/>
<circle cx="1283.7" cy="325.7" r="11.0" fill="#2d90c6" fill-opacity="0.74" stroke="#2e6d98" stroke-opacity="0.74" stroke-width="1.5"/>
<circle cx="1286.6" cy="323.7" r="11.0" fill="#2d90c6" fill-opacity="0.74" stroke="#2e6d98" stroke-opacity="0.74" stroke-width="1.5"/>
<circle cx="1299.2" cy="336.2" r="11.0" fill="#2d90c6" fill-opacity="0.74" stroke="#2e6d98" stroke-opacity="0.74" stroke-width="1.5"/>
<circle cx="1150.8" cy="346" r="11.0" fill="#2d90c6" fill-opacity="0.74" stroke="#2e6d98" stroke-opacity="0.74" stroke-width="1.5"/>
<circle cx="1281.1" cy="364.8" r="11.0" fill="#2d90c6" fill-opacity="0.74" stroke="#2e6d98" stroke-opacity="0.74" stroke-width="1.5"/>
<circle cx="1249.8" cy="377" r="11.0" fill="#2d90c6" fill-opacity="0.74" stroke="#2e6d98" stroke-opacity="0.74" stroke-width="1.5"/>
<circle cx="1374" cy="396.1" r="11.0" fill="#2d90c6" fill-opacity="0.74" stroke="#2e6d98" stroke-opacity="0.74" stroke-width="1.5"/>
<circle cx="1293.6" cy="401.8" r="11.0" fill="#2d90c6" fill-opacity="0.74" stroke="#2e6d98" stroke-opacity="0.74" stroke-width="1.5"/>
<circle cx="1295.3" cy="413.5" r="11.0" fill="#2d90c6" fill-opacity="0.74" stroke="#2e6d98" stroke-opacity="0.74" stroke-width="1.5"/>
<circle cx="1127.4" cy="423" r="11.0" fill="#2d90c6" fill-opacity="0.74" stroke="#2e6d98" stroke-opacity="0.74" stroke-width="1.5"/>
<circle cx="1241" cy="410.2" r="11.0" fill="#2d90c6" fill-opacity="0.74" stroke="#2e6d98" stroke-opacity="0.74" stroke-width="1.5"/>
<circle cx="1227.1" cy="420.3" r="11.0" fill="#2d90c6" fill-opacity="0.74" stroke="#2e6d98" stroke-opacity="0.74" stroke-width="1.5"/>
<circle cx="1244.1" cy="429.6" r="11.0" fill="#2d90c6" fill-opacity="0.74" stroke="#2e6d98" stroke-opacity="0.74" stroke-width="1.5"/>
<circle cx="1255" cy="431.1" r="11.0" fill="#2d90c6" fill-opacity="0.74" stroke="#2e6d98" stroke-opacity="0.74" stroke-width="1.5"/>
<circle cx="1304.4" cy="438.7" r="11.0" fill="#2d90c6" fill-opacity="0.74" stroke="#2e6d98" stroke-opacity="0.74" stroke-width="1.5"/>
<circle cx="1318.6" cy="438.7" r="11.0" fill="#2d90c6" fill-opacity="0.74" stroke="#2e6d98" stroke-opacity="0.74" stroke-width="1.5"/>
<circle cx="1180.4" cy="438.5" r="11.0" fill="#2d90c6" fill-opacity="0.74" stroke="#2e6d98" stroke-opacity="0.74" stroke-width="1.5"/>
<circle cx="1224.9" cy="449.7" r="11.0" fill="#2d90c6" fill-opacity="0.74" stroke="#2e6d98" stroke-opacity="0.74" stroke-width="1.5"/>
<circle cx="1204.7" cy="459" r="11.0" fill="#2d90c6" fill-opacity="0.74" stroke="#2e6d98" stroke-opacity="0.74" stroke-width="1.5"/>
<circle cx="1205.3" cy="464.3" r="11.0" fill="#2d90c6" fill-opacity="0.74" stroke="#2e6d98" stroke-opacity="0.74" stroke-width="1.5"/>
<circle cx="1135.1" cy="459.3" r="11.0" fill="#2d90c6" fill-opacity="0.74" stroke="#2e6d98" stroke-opacity="0.74" stroke-width="1.5"/>
<circle cx="1244.1" cy="464.4" r="11.0" fill="#2d90c6" fill-opacity="0.74" stroke="#2e6d98" stroke-opacity="0.74" stroke-width="1.5"/>
<circle cx="1243.8" cy="482.7" r="11.0" fill="#2d90c6" fill-opacity="0.74" stroke="#2e6d98" stroke-opacity="0.74" stroke-width="1.5"/>
<circle cx="1311" cy="485.8" r="11.0" fill="#2d90c6" fill-opacity="0.74" stroke="#2e6d98" stroke-opacity="0.74" stroke-width="1.5"/>
<circle cx="1103" cy="498.7" r="11.0" fill="#2d90c6" fill-opacity="0.74" stroke="#2e6d98" stroke-opacity="0.74" stroke-width="1.5"/>
<circle cx="1207" cy="504.3" r="11.0" fill="#2d90c6" fill-opacity="0.74" stroke="#2e6d98" stroke-opacity="0.74" stroke-width="1.5"/>
<circle cx="1241.5" cy="530.1" r="11.0" fill="#2d90c6" fill-opacity="0.74" stroke="#2e6d98" stroke-opacity="0.74" stroke-width="1.5"/>
<circle cx="1262.7" cy="524.9" r="11.0" fill="#2d90c6" fill-opacity="0.74" stroke="#2e6d98" stroke-opacity="0.74" stroke-width="1.5"/>
<circle cx="1092.3" cy="544.2" r="11.0" fill="#2d90c6" fill-opacity="0.74" stroke="#2e6d98" stroke-opacity="0.74" stroke-width="1.5"/>
<circle cx="1045.4" cy="650.4" r="11.0" fill="#2d90c6" fill-opacity="0.74" stroke="#2e6d98" stroke-opacity="0.74" stroke-width="1.5"/>
<line x1="1045.4" y1="554.12" x2="1689.6" y2="34.09" stroke="#d9531c" stroke-width="3.3" stroke-dasharray="10.5 15.69" stroke-dashoffset="-4.6" stroke-linecap="round"/>
</g>
<rect x="1012.8" y="4.0" width="708.4" height="678.2" fill="none" stroke="#555555" stroke-width="2.4" stroke-linejoin="round"/>
<line x1="1005.3" y1="500.4" x2="1012.8" y2="500.4" stroke="#333333" stroke-width="2.2"/>
<line x1="1005.3" y1="276.6" x2="1012.8" y2="276.6" stroke="#333333" stroke-width="2.2"/>
<line x1="1005.3" y1="52.4" x2="1012.8" y2="52.4" stroke="#333333" stroke-width="2.2"/>
<line x1="1210.4" y1="682.2" x2="1210.4" y2="685.7" stroke="#333333" stroke-width="2.2"/>
<line x1="1436.9" y1="682.2" x2="1436.9" y2="685.7" stroke="#333333" stroke-width="2.2"/>
<line x1="1661.6" y1="682.2" x2="1661.6" y2="685.7" stroke="#333333" stroke-width="2.2"/>
<g transform="translate(38.45,193.52) scale(1.0018)"><text x="0" y="0" font-size="31.5">0.010</text></g>
<g transform="translate(38.07,429.71) scale(1.0103)"><text x="0" y="0" font-size="31.5">0.005</text></g>
<g transform="translate(38.70,663.59) scale(0.9954)"><text x="0" y="0" font-size="31.5">0.000</text></g>
<g transform="translate(207.20,718.80) scale(1.0132)"><text x="0" y="0" font-size="31.5">-100</text></g>
<g transform="translate(403.65,718.95) scale(1.0311)"><text x="0" y="0" font-size="31.5">0</text></g>
<g transform="translate(557.82,718.89) scale(1.0265)"><text x="0" y="0" font-size="31.5">100</text></g>
<g transform="translate(731.00,718.78) scale(1.0268)"><text x="0" y="0" font-size="31.5">200</text></g>
<g transform="translate(167.23,48.01) scale(1.0109)"><text x="0" y="0" font-size="38">(a)</text></g>
<g transform="translate(27.99,400.62) scale(0.9748,1.0298) rotate(-90)"><text x="0" y="0" font-size="33.5">Density</text></g>
<g transform="translate(296.78,760.51) scale(1.0266)"><text x="0" y="0" font-size="33.5">NO</text></g>
<g transform="translate(346.93,767.22) scale(1.0197)"><text x="0" y="0" font-size="23.5">3</text></g>
<g transform="translate(368.63,759.84) scale(0.9981)"><text x="0" y="0" font-size="33.5">Load Uncertainty</text></g>
<g transform="translate(631.43,761.71) scale(0.8666)"><text x="0" y="0" font-size="42" class="ser">(</text></g>
<g transform="translate(646.59,761.23) scale(0.9915,1.0307)"><text x="0" y="0" font-size="35.5" class="ser2">%</text></g>
<g transform="translate(677.50,761.69) scale(0.8656)"><text x="0" y="0" font-size="42" class="ser">)</text></g>
<g transform="translate(930.01,62.80) scale(0.9701,1.0611)"><text x="0" y="0" font-size="26">1e+08</text></g>
<g transform="translate(929.80,287.50) scale(0.9735,1.0778)"><text x="0" y="0" font-size="26">1e+06</text></g>
<g transform="translate(929.81,511.90) scale(0.9689,1.0444)"><text x="0" y="0" font-size="26">1e+04</text></g>
<g transform="translate(1173.18,712.80) scale(0.9826,1.0278)"><text x="0" y="0" font-size="26">1e+09</text></g>
<g transform="translate(1399.11,713.10) scale(1.0188,1.0611)"><text x="0" y="0" font-size="26">1e+11</text></g>
<g transform="translate(1624.00,713.30) scale(0.9752,1.0167)"><text x="0" y="0" font-size="26">1e+13</text></g>
<g transform="translate(1028.52,48.01) scale(1.0157)"><text x="0" y="0" font-size="38">(b)</text></g>
<g transform="translate(1457.38,633.11) scale(1.0088)"><text x="0" y="0" font-size="27">Spearman’s r = 0.72</text></g>
<g transform="translate(1606.05,666.06) scale(0.9859)"><text x="0" y="0" font-size="27">p&lt;0.001</text></g>
<g transform="translate(912.08,517.13) scale(1.0280) rotate(-90)"><text x="0" y="0" font-size="29">NO</text></g>
<g transform="translate(919.94,474.80) scale(1.2265) rotate(-90)"><text x="0" y="0" font-size="20.5">3</text></g>
<g transform="translate(912.77,452.32) scale(1.0015) rotate(-90)"><text x="0" y="0" font-size="29">Load Uncertainty</text></g>
<g transform="translate(913.37,224.22) scale(0.8084) rotate(-90)"><text x="0" y="0" font-size="39" class="ser">(</text></g>
<g transform="translate(913.40,211.05) scale(0.9864) rotate(-90)"><text x="0" y="0" font-size="29">kg</text></g>
<g transform="translate(914.54,179.40) scale(0.8669) rotate(-90)"><text x="0" y="0" font-size="39" class="ser">)</text></g>
<g transform="translate(1155.91,765.93) scale(1.0024)"><text x="0" y="0" font-size="32.4">Mean</text></g>
<g transform="translate(1249.85,766.15) scale(0.9833)"><text x="0" y="0" font-size="32.4">Total</text></g>
<g transform="translate(1327.82,766.13) scale(1.0024)"><text x="0" y="0" font-size="32.4">Annual</text></g>
<g transform="translate(1441.80,765.93) scale(0.9735)"><text x="0" y="0" font-size="32.4">Flow</text></g>
<g transform="translate(1521.15,766.01) scale(1.0248)"><text x="0" y="0" font-size="32.4">(ft</text></g>
<g transform="translate(1551.54,754.93) scale(1.0465)"><text x="0" y="0" font-size="20.5">3</text></g>
<g transform="translate(1564.25,765.84) scale(0.9806)"><text x="0" y="0" font-size="32.4">)</text></g>
</svg>
</body></html>
